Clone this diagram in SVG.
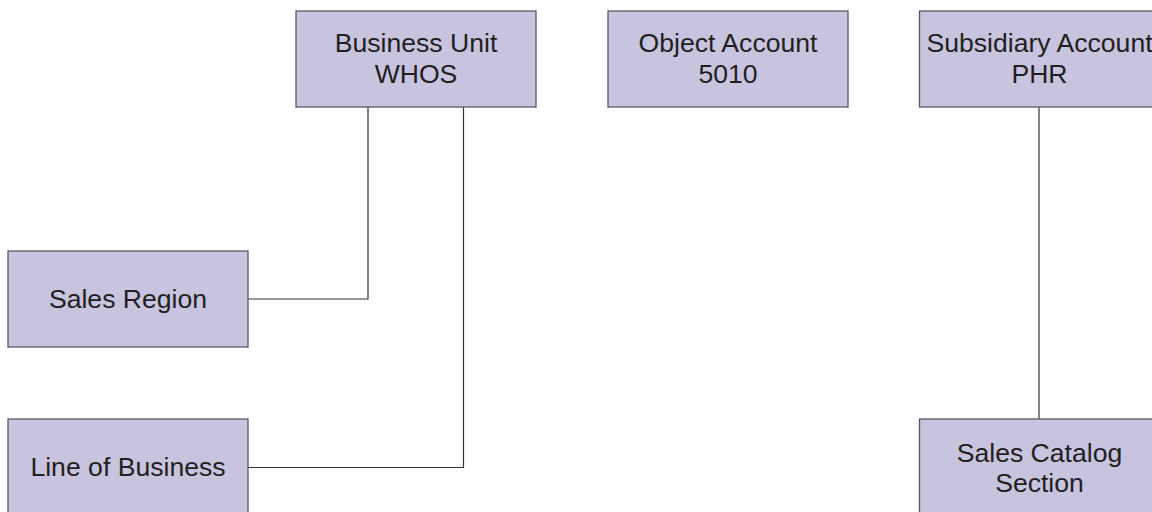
<svg xmlns="http://www.w3.org/2000/svg" width="1152" height="512" viewBox="0 0 1152 512">
<style>
.box{fill:#c8c4e0;stroke:#5a5a5a;stroke-width:1.3}
.t{font-family:"Liberation Sans",Arial,sans-serif;font-size:26.6px;fill:#231f20;text-anchor:middle}
.c{fill:none;stroke:#333;stroke-width:1.2}
</style>
<rect width="1152" height="512" fill="#fff"/>
<g id="connectors">
<polyline class="c" points="368,107 368,299 248,299"/>
<polyline class="c" points="463.5,107 463.5,467.5 248,467.5"/>
<line class="c" x1="1039" y1="107" x2="1039" y2="419"/>
</g>
<g id="business-unit">
<rect class="box" x="296" y="11" width="240" height="96"/>
<text class="t" x="416" y="52">Business Unit</text>
<text class="t" x="416" y="83">WHOS</text>
</g>
<g id="object-account">
<rect class="box" x="608" y="11" width="240" height="96"/>
<text class="t" x="728" y="52">Object Account</text>
<text class="t" x="728" y="83">5010</text>
</g>
<g id="subsidiary-account">
<rect class="box" x="919.5" y="11" width="240" height="96"/>
<text class="t" x="1039.5" y="52">Subsidiary Account</text>
<text class="t" x="1039.5" y="83">PHR</text>
</g>
<g id="sales-region">
<rect class="box" x="8" y="251" width="240" height="96"/>
<text class="t" x="128" y="308">Sales Region</text>
</g>
<g id="line-of-business">
<rect class="box" x="8" y="419" width="240" height="96"/>
<text class="t" x="128" y="476">Line of Business</text>
</g>
<g id="sales-catalog-section">
<rect class="box" x="919.5" y="419" width="240" height="96"/>
<text class="t" x="1039.5" y="462">Sales Catalog</text>
<text class="t" x="1039.5" y="492">Section</text>
</g>
</svg>
